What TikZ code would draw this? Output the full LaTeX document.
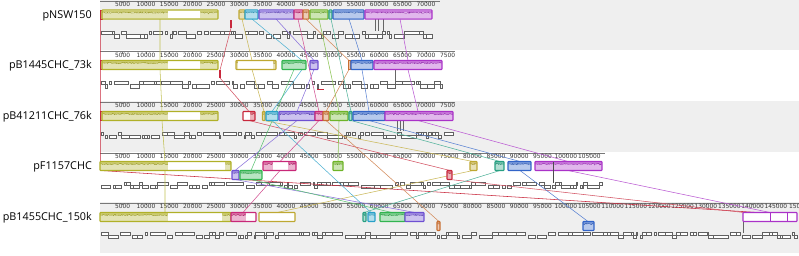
\documentclass[tikz,border=0pt]{standalone}
\usepackage{fontspec}
\setmainfont{Open Sans}
\newfontfamily\tickfont{DejaVu Sans}
\usetikzlibrary{decorations.pathmorphing}
\definecolor{cA}{RGB}{176,176,40}
\definecolor{cMus}{RGB}{190,168,50}
\definecolor{cCy}{RGB}{40,160,200}
\definecolor{cLav}{RGB}{110,80,210}
\definecolor{cMag}{RGB}{200,40,120}
\definecolor{cOr}{RGB}{200,110,50}
\definecolor{cYg}{RGB}{110,180,40}
\definecolor{cLg}{RGB}{50,180,80}
\definecolor{cTe}{RGB}{40,160,130}
\definecolor{cBl}{RGB}{50,100,200}
\definecolor{cPu}{RGB}{170,50,200}
\definecolor{cRd}{RGB}{200,40,60}
\definecolor{bgg}{RGB}{239,239,239}
\definecolor{rul}{RGB}{120,120,120}
\tikzset{
  glab/.style={anchor=base east, inner sep=0pt, font=\fontsize{10.8}{12}\selectfont},
  ticklab/.style={inner sep=0pt, text=black!80, font=\tickfont\fontsize{5.9}{6}\selectfont},
  rulerline/.style={draw=rul, line width=0.45},
  genebox/.style={draw=black!62, fill=white, line width=0.4},
  lnk/.style={line width=0.55},
}
\newcommand\prof[4]{%
  \fill[#4!35] (#1,#3+0.6) rectangle (#2,#3+8.4);
  \fill[#4!65] (#1,#3+0.6) rectangle (#2,#3+2.4);
  \draw[#4!85!black, line width=0.35, decorate, decoration={random steps, segment length=0.8pt, amplitude=0.7pt}] (#1+0.3,#3+2.6) -- (#2-0.3,#3+2.6);
}
\newcommand\outl[4]{\draw[#4, line width=1.1, rounded corners=0.7] (#1,#3) rectangle (#2,#3+9);}
\newcommand\wblk[4]{\fill[white] (#1,#3) rectangle (#2,#3+9);}
\newcommand\blk[4]{\wblk{#1}{#2}{#3}{#4}\prof{#1}{#2}{#3}{#4}\outl{#1}{#2}{#3}{#4}}
\newcommand\tblk[4]{\fill[#4!40] (#1,#3) rectangle (#2,#3+9);\draw[#4, line width=0.9] (#1,#3) rectangle (#2,#3+9);}
\newcommand\mkgenes[3]{%
  \pgfmathsetseed{#3}%
  \xdef\gx{101}%
  \loop
    \pgfmathsetmacro\gw{1.5+rnd*rnd*16}%
    \pgfmathsetmacro\gsr{rnd}%
    \pgfmathsetmacro\gend{min(\gx+\gw,#2)}%
    \ifdim\gsr pt<0.62pt
      \draw[genebox] (\gx,#1-3) rectangle (\gend,#1);
    \else
      \draw[genebox] (\gx,#1) rectangle (\gend,#1+3.5);
    \fi
    \pgfmathsetmacro\gnext{\gend+(rnd<0.35?2.5:0)}%
    \xdef\gx{\gnext}%
  \ifdim\gx pt<#2pt \repeat
}
\newcommand\ruler[3]{%
  \draw[rulerline] (100,#1) -- (#2,#1);
  \foreach \k in {1,...,#3}{%
    \pgfmathsetmacro\xx{99.3+\k*23.332}%
    \draw[rulerline, line width=0.3] (\xx,#1) -- (\xx,#1+1.8);
    \node[ticklab] at (\xx,#1+3.4) {\the\numexpr\k*5000\relax};
  }
}
\begin{document}
\begin{tikzpicture}[x=1pt,y=-1pt]
\useasboundingbox (0,0) rectangle (799,255);
% panel backgrounds
\fill[bgg] (100,0) rectangle (799,50);
\fill[bgg] (100,101) rectangle (799,152);
\fill[bgg] (100,202) rectangle (799,253);
% labels
\node[glab] (n1) at (92,18) {pNSW150};
\node[glab] (n2) at (92,68.5) {pB1445CHC\_73k};
\node[glab] (n3) at (92,119.5) {pB41211CHC\_76k};
\node[glab] (n4) at (92,169.5) {pF1157CHC};
\node[glab] (n5) at (92,220.5) {pB1455CHC\_150k};
% rulers
\ruler{1.3}{440}{14}
\ruler{51.7}{455}{14}
\node[ticklab, anchor=west] (t2) at (440,55.1) {7500};
\ruler{102.3}{455}{14}
\node[ticklab, anchor=west] (t3) at (440,105.7) {7500};
\ruler{152.8}{605}{21}
\ruler{203.3}{799}{29}
\node[ticklab, anchor=west] (t5) at (789,206.7) {150};
% genes
\mkgenes{34.3}{432}{11}
\mkgenes{84.3}{442}{12}
\mkgenes{134.8}{453}{13}
\mkgenes{184.8}{602}{14}
\mkgenes{235}{797}{15}
% grey vertical marks
\draw[black!60, line width=0.5] (375,10) -- (375,31) (378,10) -- (378,31) (383,10) -- (383,31);
\draw[black!60, line width=0.5] (395,69) -- (395,81);
\draw[black!60, line width=0.5] (397,120) -- (397,131) (400,112) -- (400,131) (403,112) -- (403,131);
\draw[black!70, line width=0.5] (553,161) -- (553,183);
\draw[black!60, line width=0.5] (743,221) -- (743,233);
% connectors
\draw[lnk, cRd] (100.6,10) -- (100.6,170.5) -- (797,215);
\draw[lnk, cA!80] (160,19) -- (160,60.5) (160,69.5) -- (162,111.5) (162,120.5) -- (165,161.5) (165,170.5) -- (165,212.5);
\draw[lnk, cRd!80] (231,28) -- (220,70) (220,78) -- (249,111.5) (249,120.5) -- (450,170.5) (450,179.5) -- (744,212.5);
\draw[lnk, cMus!80] (242,19) -- (252,60.5) (252,69.5) -- (264,111.5) (264,120.5) -- (473,161.5) (473,170.5) -- (277,212.5);
\draw[lnk, cCy!80] (252,19) -- (302,60.5) -- (302,69.5) -- (272,111.5) (272,120.5) -- (371,212.5);
\draw[lnk, cLav!80] (276,19) -- (314,60.5) (314,69.5) -- (297,111.5) (297,120.5) -- (235,170.5) (235,179.5) -- (415,212.5);
\draw[lnk, cMag!80] (298,19) -- (319,111.5) (319,120.5) -- (280,161.5) (280,170.5) -- (243,212.5);
\draw[lnk, cOr!80] (306,19) -- (349,60.5) (349,69.5) -- (326,111.5) (326,120.5) -- (439,221.5);
\draw[lnk, cYg!80] (319,19) -- (339,111.5) (339,120.5) -- (338,161.5);
\draw[lnk, cLg!80] (294,69.5) -- (251,170.5) (251,179.5) -- (392,212.5);
\draw[lnk, cTe!80] (331,19) -- (351,111.5) (351,120.5) -- (500,161.5) (500,170.5) -- (364,212.5);
\draw[lnk, cBl!80] (349,19) -- (362,60.5) (362,69.5) -- (369,111.5) (369,120.5) -- (520,161.5) (520,170.5) -- (588,221.5);
\draw[lnk, cPu!80] (400,19) -- (408,60.5) (408,69.5) -- (418,111.5) (418,120.5) -- (568,161.5) (568,170.5) -- (770,212.5);
% ---- panel 1 blocks
\tblk{100}{102}{10}{cRd}
\wblk{102}{218}{10}{cA}\prof{102}{168}{10}{cA}\prof{200}{218}{10}{cA}\outl{102}{218}{10}{cA}
\fill[cRd] (229.5,20) rectangle (232,28);
\blk{239}{245}{10}{cMus}
\blk{245}{258}{10}{cCy}
\blk{259}{294}{10}{cLav}
\blk{294}{303}{10}{cMag}
\blk{303}{309}{10}{cOr}
\blk{310}{328}{10}{cYg}
\blk{329}{332}{10}{cTe}
\blk{333}{364}{10}{cBl}
\blk{365}{432}{10}{cPu}
% ---- panel 2 blocks
\tblk{100}{102}{60.5}{cRd}
\wblk{102}{218}{60.5}{cA}\prof{102}{168}{60.5}{cA}\prof{200}{218}{60.5}{cA}\outl{102}{218}{60.5}{cA}
\fill[cRd] (219.3,70) rectangle (221,78);
\wblk{236}{276}{60.5}{cMus}\prof{236}{238}{60.5}{cMus}\prof{273}{276}{60.5}{cMus}\outl{236}{276}{60.5}{cMus}
\blk{282}{306}{60.5}{cLg}
\blk{310}{318}{60.5}{cLav}
\tblk{348}{350}{60.5}{cOr}
\blk{351}{373}{60.5}{cBl}
\blk{374}{442}{60.5}{cPu}
\draw[cRd, line width=0.9] (317,89.5) -- (324,89.5);
% ---- panel 3 blocks
\tblk{100}{102}{111.5}{cRd}
\wblk{102}{218}{111.5}{cA}\prof{102}{168}{111.5}{cA}\prof{200}{218}{111.5}{cA}\outl{102}{218}{111.5}{cA}
\wblk{243}{255}{111.5}{cRd}\prof{250}{255}{111.5}{cRd}\outl{243}{255}{111.5}{cRd}
\blk{262.5}{265}{111.5}{cMus}
\blk{266}{278}{111.5}{cCy}
\blk{279}{315}{111.5}{cLav}
\blk{315}{323}{111.5}{cMag}
\blk{323}{329}{111.5}{cOr}
\blk{330}{348}{111.5}{cYg}
\blk{349}{352}{111.5}{cTe}
\blk{353}{385}{111.5}{cBl}
\blk{385}{453}{111.5}{cPu}
% ---- panel 4 blocks
\wblk{100}{231}{161.5}{cA}\prof{100}{168}{161.5}{cA}\prof{225}{231}{161.5}{cA}\outl{100}{231}{161.5}{cA}
\blk{232}{239}{170.5}{cLav}
\blk{240}{262}{170.5}{cLg}
\wblk{263}{296}{161.5}{cMag}\prof{263}{273}{161.5}{cMag}\prof{288}{296}{161.5}{cMag}\outl{263}{296}{161.5}{cMag}
\blk{333}{343}{161.5}{cYg}
\blk{447}{452}{170.5}{cRd}
\blk{470}{477}{161.5}{cMus}
\blk{495}{504}{161.5}{cTe}
\blk{508}{531}{161.5}{cBl}
\blk{535}{602}{161.5}{cPu}
\draw[black!70, line width=0.5] (553,161.5) -- (553,170.5);
% ---- panel 5 blocks
\wblk{100}{231}{212.5}{cA}\prof{100}{168}{212.5}{cA}\prof{222}{231}{212.5}{cA}\outl{100}{231}{212.5}{cA}
\wblk{231}{256}{212.5}{cMag}\prof{231}{246}{212.5}{cMag}\outl{231}{256}{212.5}{cMag}
\wblk{259}{295}{212.5}{cMus}\outl{259}{295}{212.5}{cMus}
\blk{363}{366}{212.5}{cTe}
\blk{368}{375}{212.5}{cCy}
\blk{380}{405}{212.5}{cLg}
\blk{405}{424}{212.5}{cLav}
\blk{437}{440}{221.5}{cOr}
\blk{583}{594}{221.5}{cBl}
\wblk{743}{797}{212.5}{cPu}\outl{743}{797}{212.5}{cPu}
\draw[cPu, line width=0.6] (770,213) -- (770,221) (787,213) -- (787,221);
\end{tikzpicture}
\end{document}
